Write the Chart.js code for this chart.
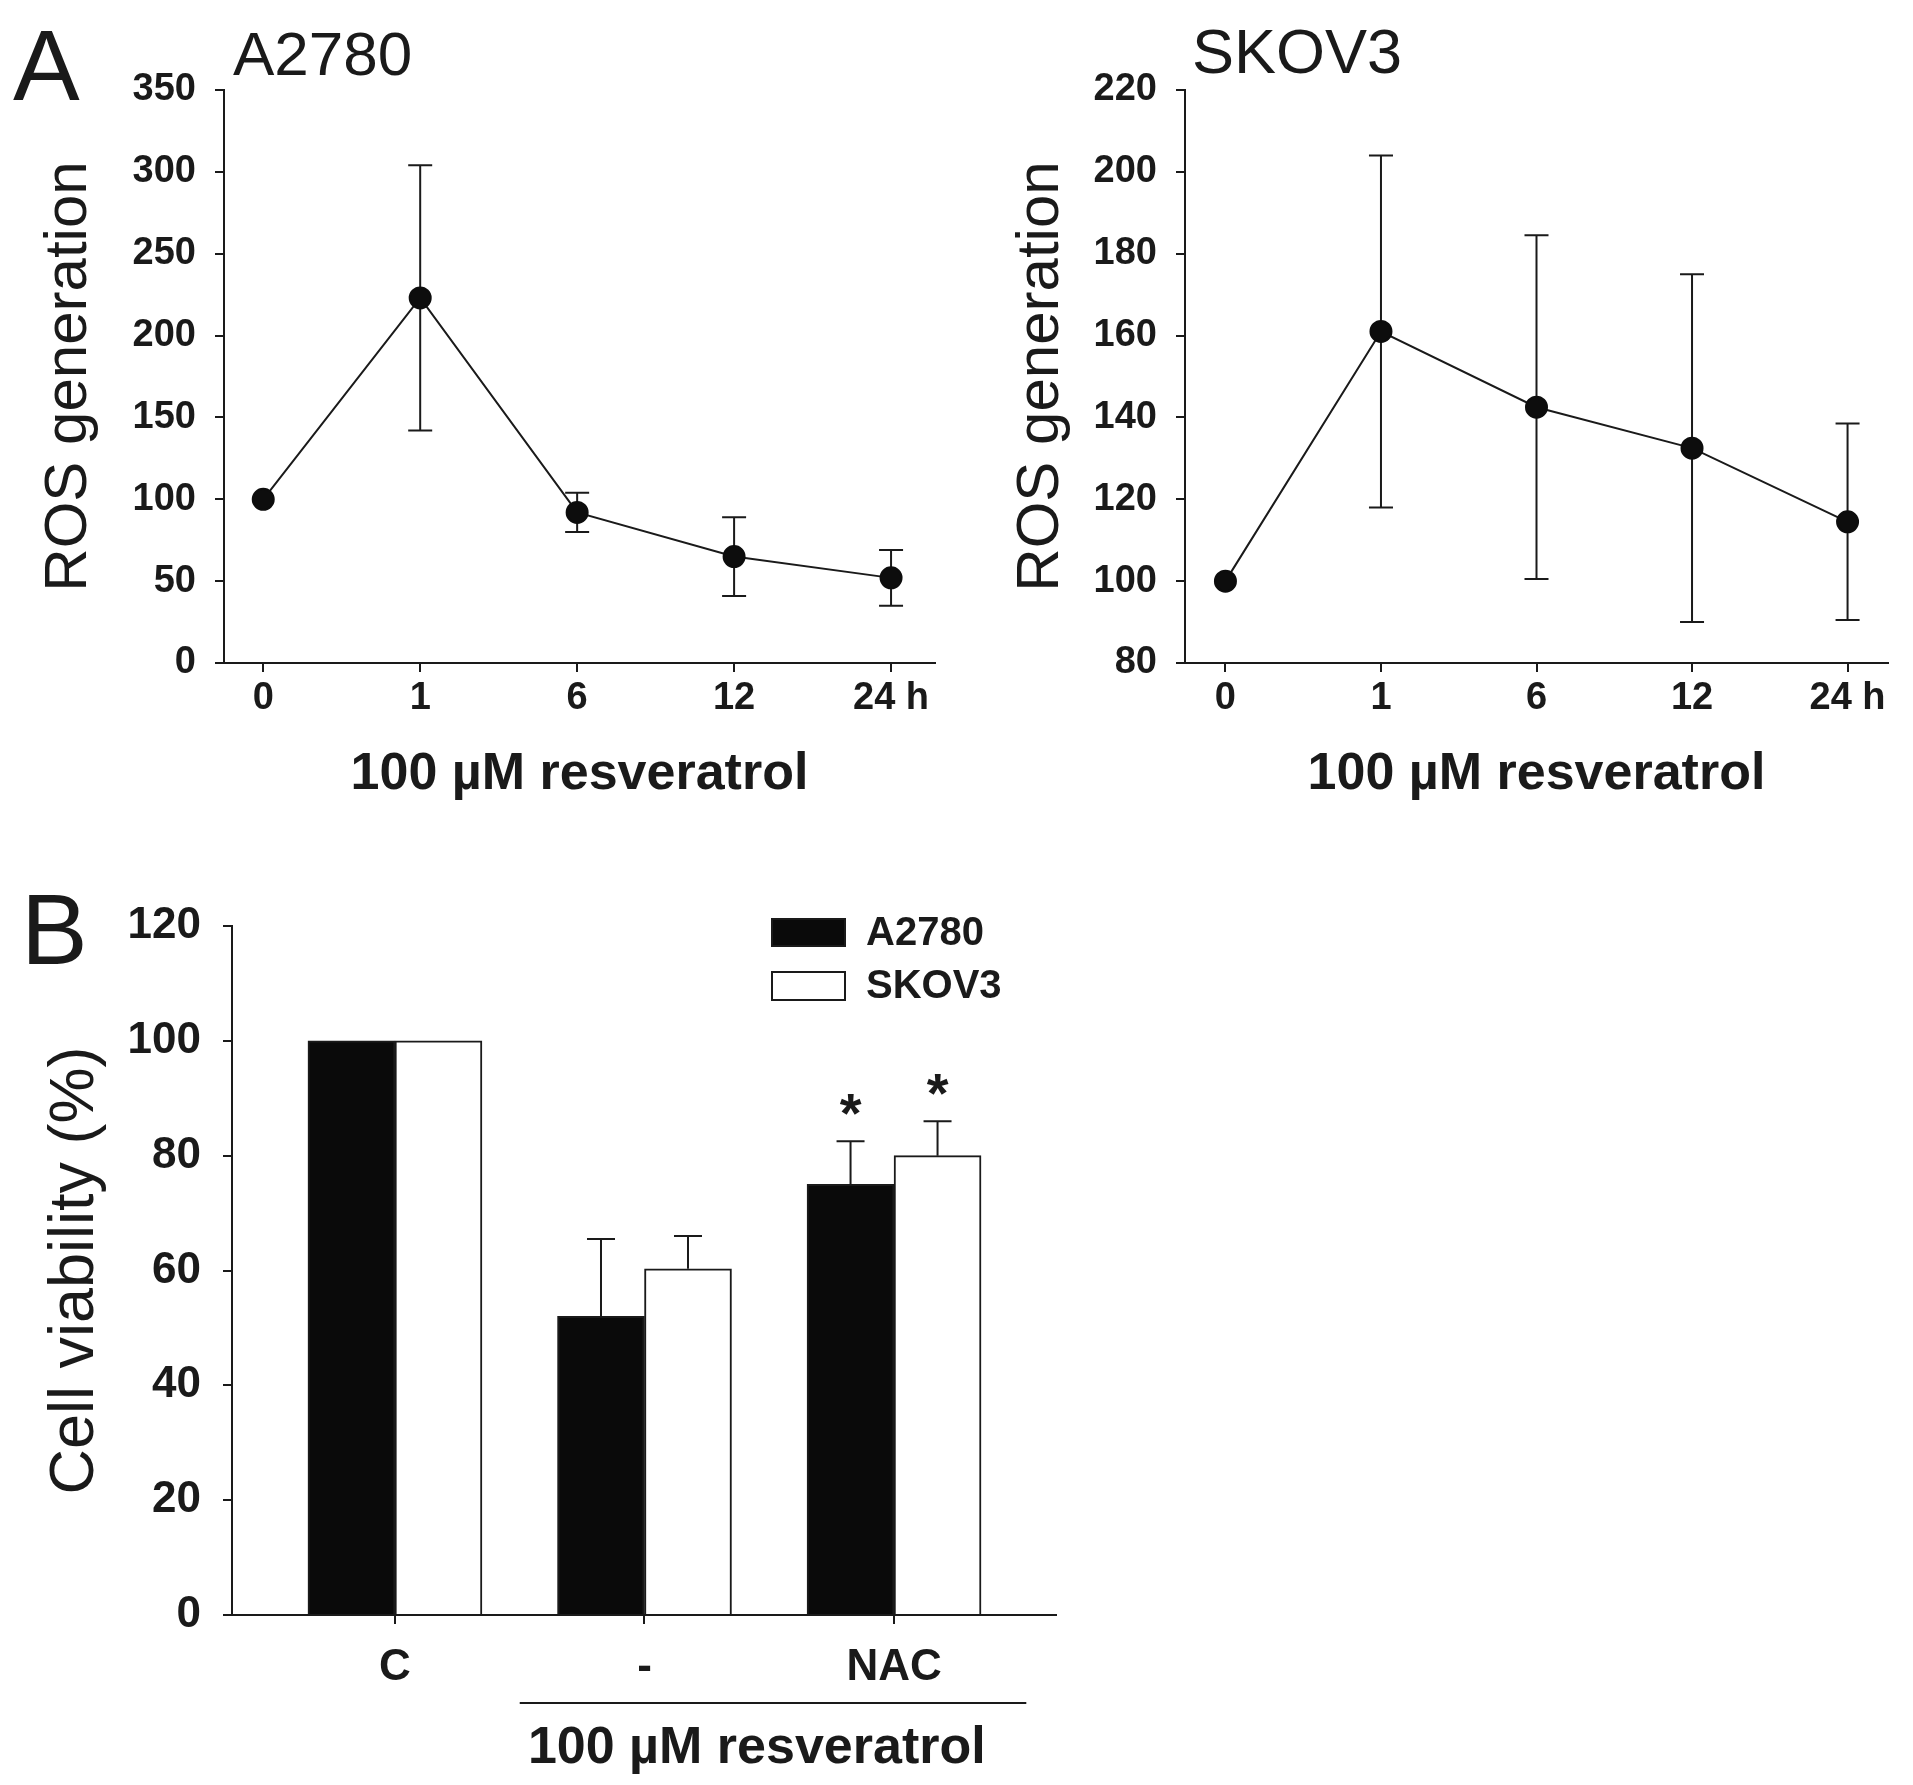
<!DOCTYPE html>
<html>
<head>
<meta charset="utf-8">
<script src="https://cdn.jsdelivr.net/npm/chart.js@4.4.1/dist/chart.umd.min.js"></script>
<style>
body { margin: 0; background: #fff; }
#page { position: relative; width: 1913px; height: 1785px; overflow: hidden; font-family: 'Liberation Sans', Arial, sans-serif; color: #1a1a1a; }
canvas { position: absolute; }
.lbl { position: absolute; line-height: 1; white-space: nowrap; }
</style>
</head>
<body>
<div id="page">
  <div class="lbl" style="left:13px;top:15px;font-size:100px;">A</div>
  <div class="lbl" style="left:233px;top:23px;font-size:62px;">A2780</div>
  <div class="lbl" style="left:1192px;top:20px;font-size:63px;">SKOV3</div>
  <div class="lbl" style="left:21px;top:879px;font-size:100px;">B</div>
  <canvas id="rosA2780" width="960" height="820" style="left:0;top:0"></canvas>
  <canvas id="rosSKOV3" width="953" height="820" style="left:960px;top:0"></canvas>
  <canvas id="viability" width="1100" height="925" style="left:0;top:860px"></canvas>
</div>
<script>
// panel A: ROS generation over time
const timeLabels = ['0', '1', '6', '12', '24 h'];
const a2780Ros = [100, 223, 92, 65, 52];
const a2780RosSd = [0, 81, 12, 24, 17];
const skov3Ros = [100, 161, 142.5, 132.5, 114.5];
const skov3RosSd = [0, 43, 42, 42.5, 24];
const rosTicksA2780 = [0, 50, 100, 150, 200, 250, 300, 350];
const rosTicksSKOV3 = [80, 100, 120, 140, 160, 180, 200, 220];

// panel B: cell viability
const groupLabels = ['C', '-', 'NAC'];
const seriesNames = ['A2780', 'SKOV3'];
const a2780Viability = [100, 52, 75];
const a2780ViabilitySd = [0, 13.5, 7.5];
const skov3Viability = [100, 60.3, 80];
const skov3ViabilitySd = [0, 5.7, 6];
const starMarks = ['', '', '*'];
const viabilityTicks = [0, 20, 40, 60, 80, 100, 120];

const INK = '#1a1a1a';
Chart.defaults.font.family = "'Liberation Sans', Arial, sans-serif";
Chart.defaults.color = INK;

function toPoints(values) {
    return values.map((v, i) => ({ x: i, y: v }));
}

function makeErrorBars(upOnly, capHalf) {
    const draw = function (chart) {
        const ctx = chart.ctx;
        const yScale = chart.scales.y;
        chart.data.datasets.forEach((ds, di) => {
            if (!ds.sd) return;
            const meta = chart.getDatasetMeta(di);
            meta.data.forEach((el, i) => {
                const sd = ds.sd[i];
                if (!sd) return;
                const v = ds.data[i].y;
                const top = yScale.getPixelForValue(v + sd);
                const bottom = yScale.getPixelForValue(upOnly ? v : v - sd);
                ctx.save();
                ctx.strokeStyle = INK;
                ctx.lineWidth = 2;
                ctx.beginPath();
                ctx.moveTo(el.x, top);
                ctx.lineTo(el.x, bottom);
                ctx.moveTo(el.x - capHalf, top);
                ctx.lineTo(el.x + capHalf, top);
                if (!upOnly) {
                    ctx.moveTo(el.x - capHalf, bottom);
                    ctx.lineTo(el.x + capHalf, bottom);
                }
                ctx.stroke();
                ctx.restore();
            });
        });
    };
    if (upOnly) return { id: 'errorBars', afterDatasetsDraw: draw };
    return { id: 'errorBars', beforeDatasetsDraw: draw };
}

function axisStyle() {
    return {
        grid: { drawOnChartArea: false, drawTicks: true, tickLength: 9, color: INK, lineWidth: 2, offset: false },
        border: { display: true, color: INK, width: 2 }
    };
}

function rosChart(canvasId, values, sd, yTicks, xMin, xMax, yTitlePad) {
    const ctx = document.getElementById(canvasId).getContext('2d');
    new Chart(ctx, {
        type: 'line',
        data: {
            datasets: [{
                data: toPoints(values),
                sd: sd,
                borderColor: INK,
                borderWidth: 2,
                pointRadius: 10.5,
                pointBackgroundColor: '#0d0d0d',
                pointBorderColor: '#0d0d0d',
                tension: 0
            }]
        },
        options: {
            responsive: false,
            animation: false,
            devicePixelRatio: 1,
            layout: { padding: { top: 90, right: 25, bottom: 0, left: 0 } },
            plugins: { legend: { display: false }, tooltip: { enabled: false } },
            scales: {
                x: Object.assign(axisStyle(), {
                    type: 'linear',
                    min: xMin,
                    max: xMax,
                    offset: false,
                    afterBuildTicks: s => { s.ticks = timeLabels.map((_, i) => ({ value: i })); },
                    afterFit: s => { s.height = 157; },
                    ticks: {
                        callback: v => timeLabels[v],
                        autoSkip: false, maxRotation: 0, padding: 4,
                        font: { size: 38, weight: 'bold' }
                    },
                    title: {
                        display: true, text: '100 µM resveratrol',
                        font: { size: 52, weight: 'bold' },
                        padding: { top: 0, bottom: 14 }
                    }
                }),
                y: Object.assign(axisStyle(), {
                    min: yTicks[0],
                    max: yTicks[yTicks.length - 1],
                    afterBuildTicks: s => { s.ticks = yTicks.map(v => ({ value: v })); },
                    afterFit: s => { s.width = canvasId === 'rosA2780' ? 224 : 225; },
                    ticks: { padding: 19, font: { size: 38, weight: 'bold' } },
                    title: {
                        display: true, text: 'ROS generation',
                        font: { size: 60, weight: 'normal' },
                        padding: { top: yTitlePad, bottom: 0 }
                    }
                })
            }
        },
        plugins: [makeErrorBars(false, 12)]
    });
}

rosChart('rosA2780', a2780Ros, a2780RosSd, rosTicksA2780, -0.25, 4.28, 33);
rosChart('rosSKOV3', skov3Ros, skov3RosSd, rosTicksSKOV3, -0.26, 4.26, 45);

// legend, asterisks and the bracketed x title for panel B
const viabilityExtras = {
    id: 'viabilityExtras',
    afterDraw(chart) {
        const ctx = chart.ctx;
        const xs = chart.scales.x;
        const ys = chart.scales.y;
        ctx.save();
        // asterisks
        ctx.fillStyle = INK;
        ctx.font = "bold 56px 'Liberation Sans', Arial, sans-serif";
        ctx.textAlign = 'center';
        ctx.textBaseline = 'middle';
        chart.data.datasets.forEach((ds, di) => {
            const meta = chart.getDatasetMeta(di);
            meta.data.forEach((el, i) => {
                if (!starMarks[i]) return;
                const top = ys.getPixelForValue(ds.data[i].y + ds.sd[i]);
                ctx.fillText(starMarks[i], el.x, top - 25);
            });
        });
        // legend
        const boxes = [[59, 27], [112, 28]];
        ctx.font = "bold 40px 'Liberation Sans', Arial, sans-serif";
        ctx.textAlign = 'left';
        chart.data.datasets.forEach((ds, di) => {
            const [by, bh] = boxes[di];
            ctx.fillStyle = ds.backgroundColor;
            ctx.fillRect(772, by, 73, bh);
            ctx.strokeStyle = INK;
            ctx.lineWidth = 2;
            ctx.strokeRect(772, by, 73, bh);
            ctx.fillStyle = INK;
            ctx.fillText(ds.label, 866, by + bh / 2 + 1);
        });
        // treatment bracket and title
        const lineY = chart.chartArea.bottom + 88;
        ctx.strokeStyle = INK;
        ctx.lineWidth = 2;
        ctx.beginPath();
        ctx.moveTo(xs.getPixelForValue(0.5), lineY);
        ctx.lineTo(xs.getPixelForValue(2.53), lineY);
        ctx.stroke();
        ctx.font = "bold 52px 'Liberation Sans', Arial, sans-serif";
        ctx.textAlign = 'center';
        ctx.fillText('100 µM resveratrol', xs.getPixelForValue(1.45), lineY + 46);
        ctx.restore();
    }
};

new Chart(document.getElementById('viability').getContext('2d'), {
    type: 'bar',
    data: {
        datasets: [
            {
                label: seriesNames[0],
                data: toPoints(a2780Viability),
                sd: a2780ViabilitySd,
                backgroundColor: '#0a0a0a',
                borderColor: INK,
                borderWidth: 2,
                barThickness: 87
            },
            {
                label: seriesNames[1],
                data: toPoints(skov3Viability),
                sd: skov3ViabilitySd,
                backgroundColor: '#ffffff',
                borderColor: INK,
                borderWidth: 2,
                barThickness: 87
            }
        ]
    },
    options: {
        responsive: false,
        animation: false,
        devicePixelRatio: 1,
        layout: { padding: { top: 66, right: 44, bottom: 0, left: 0 } },
        plugins: { legend: { display: false }, tooltip: { enabled: false } },
        scales: {
            x: Object.assign(axisStyle(), {
                type: 'linear',
                min: -0.653,
                max: 2.649,
                offset: false,
                afterBuildTicks: s => { s.ticks = groupLabels.map((_, i) => ({ value: i })); },
                afterFit: s => { s.height = 170; },
                ticks: {
                    callback: v => groupLabels[v],
                    autoSkip: false, maxRotation: 0, padding: 17,
                    font: { size: 44, weight: 'bold' }
                }
            }),
            y: Object.assign(axisStyle(), {
                min: viabilityTicks[0],
                max: viabilityTicks[viabilityTicks.length - 1],
                afterBuildTicks: s => { s.ticks = viabilityTicks.map(v => ({ value: v })); },
                afterFit: s => { s.width = 232; },
                ticks: { padding: 22, font: { size: 44, weight: 'bold' } },
                title: {
                    display: true, text: 'Cell viability (%)',
                    font: { size: 63, weight: 'normal' },
                    padding: { top: 38, bottom: 0 }
                }
            })
        }
    },
    plugins: [makeErrorBars(true, 14), viabilityExtras]
});
</script>
</body>
</html>
